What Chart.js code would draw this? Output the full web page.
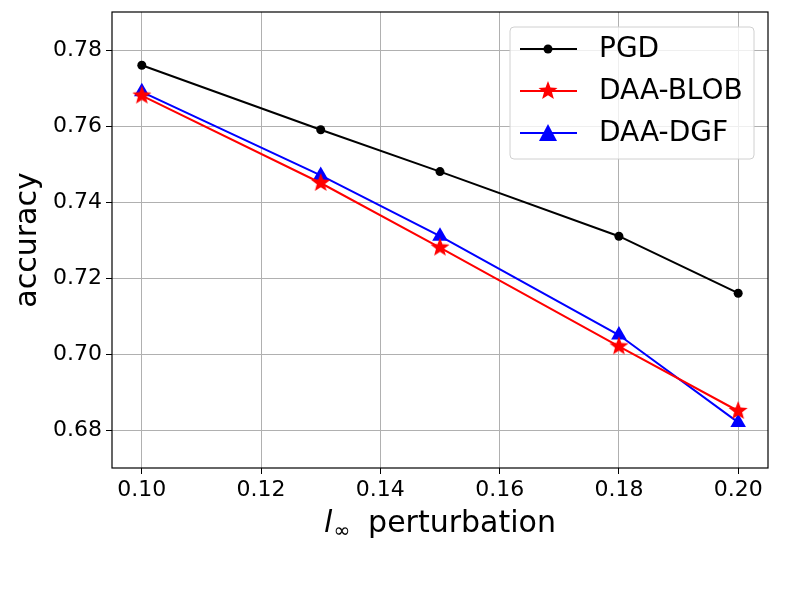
<!DOCTYPE html>
<html>
<head>
<meta charset="utf-8">
<script src="https://cdn.jsdelivr.net/npm/chart.js@4.4.0/dist/chart.umd.min.js"></script>
<style>
  html, body { margin: 0; padding: 0; background: #fff; }
  #wrap { width: 800px; height: 600px; }
</style>
</head>
<body>
<div id="wrap"><canvas id="c" width="800" height="600"></canvas></div>
<script>
'use strict';

var perturbation = [0.10, 0.13, 0.15, 0.18, 0.20];
var pgd = [0.776, 0.759, 0.748, 0.731, 0.716];
var daaBlob = [0.768, 0.745, 0.728, 0.702, 0.685];
var daaDgf = [0.769, 0.747, 0.731, 0.705, 0.682];
var xTicks = [0.10, 0.12, 0.14, 0.16, 0.18, 0.20];
var yTicks = [0.68, 0.70, 0.72, 0.74, 0.76, 0.78];

var FONT = 'DejaVu Sans';

function pts(ys) {
  return perturbation.map((x, i) => ({x: x, y: ys[i]}));
}

// filled five-point star, like matplotlib's '*' marker
function starPath(ctx, cx, cy, r) {
  var inner = r * 0.42;
  ctx.beginPath();
  for (var i = 0; i < 10; i++) {
    var rad = i % 2 === 0 ? r : inner;
    var a = -Math.PI / 2 + i * Math.PI / 5;
    var px = cx + rad * Math.cos(a), py = cy + rad * Math.sin(a);
    if (i === 0) ctx.moveTo(px, py); else ctx.lineTo(px, py);
  }
  ctx.closePath();
}

function makeStar(color, r) {
  var c = document.createElement('canvas');
  c.width = r * 2 + 2; c.height = r * 2 + 2;
  var g = c.getContext('2d');
  starPath(g, r + 1, r + 1, r);
  g.fillStyle = color;
  g.fill();
  return c;
}
var starImg = makeStar('#ff0000', 10);

var series = [
  {label: 'PGD', color: '#000000', marker: 'circle', size: 4.5, data: pgd},
  {label: 'DAA-BLOB', color: '#ff0000', marker: starImg, size: 10, data: daaBlob},
  {label: 'DAA-DGF', color: '#0000ff', marker: 'triangle', size: 9, data: daaDgf}
];

var framePlugin = {
  id: 'frame',
  afterDraw(chart) {
    var ctx = chart.ctx, a = chart.chartArea;
    ctx.save();
    ctx.strokeStyle = '#000';
    ctx.lineWidth = 1.2;
    ctx.strokeRect(a.left, a.top, a.right - a.left, a.bottom - a.top);

    // x axis title: italic l with subscript infinity
    ctx.fillStyle = '#000';
    ctx.textBaseline = 'alphabetic';
    var base = 532;
    ctx.font = 'italic 30px ' + FONT;
    var w1 = ctx.measureText('l').width;
    ctx.font = '20px ' + FONT;
    var w2 = ctx.measureText('\u221e').width;
    ctx.font = '30px ' + FONT;
    var rest = '  perturbation';
    var w3 = ctx.measureText(rest).width;
    var x0 = 440 - (w1 + w2 + w3) / 2;
    ctx.font = 'italic 30px ' + FONT;
    ctx.fillText('l', x0, base);
    ctx.font = '20px ' + FONT;
    ctx.fillText('\u221e', x0 + w1 + 1, base + 5);
    ctx.font = '30px ' + FONT;
    ctx.fillText(rest, x0 + w1 + w2, base);

    // legend box
    var bx = 510, by = 27, bw = 244, bh = 132;
    ctx.beginPath();
    ctx.roundRect(bx, by, bw, bh, 4);
    ctx.fillStyle = 'rgba(255,255,255,0.8)';
    ctx.fill();
    ctx.strokeStyle = '#d0d0d0';
    ctx.lineWidth = 1;
    ctx.stroke();
    series.forEach((s, i) => {
      var yy = 49 + i * 42;
      ctx.strokeStyle = s.color;
      ctx.lineWidth = 2;
      ctx.beginPath();
      ctx.moveTo(520, yy);
      ctx.lineTo(577, yy);
      ctx.stroke();
      ctx.fillStyle = s.color;
      if (s.marker === 'circle') {
        ctx.beginPath();
        ctx.arc(548, yy, 4.5, 0, Math.PI * 2);
        ctx.fill();
      } else if (s.marker === 'triangle') {
        ctx.beginPath();
        ctx.moveTo(548, yy - 9);
        ctx.lineTo(557, yy + 8);
        ctx.lineTo(539, yy + 8);
        ctx.closePath();
        ctx.fill();
      } else {
        starPath(ctx, 548, yy, 10);
        ctx.fill();
      }
      ctx.fillStyle = '#000';
      ctx.font = '28px ' + FONT;
      ctx.textBaseline = 'middle';
      ctx.fillText(s.label, 599, yy + 1);
    });
    ctx.restore();
  }
};

var ctx = document.getElementById('c').getContext('2d');
var chart = new Chart(ctx, {
  'type': 'line',
  'data': {
    'datasets': series.map((s) => ({
      'label': s.label,
      'data': pts(s.data),
      'borderColor': s.color,
      'backgroundColor': s.color,
      'borderWidth': 2,
      'pointStyle': s.marker,
      'pointRadius': s.size,
      'pointHoverRadius': s.size,
      'pointBorderWidth': 0,
      'tension': 0,
      'fill': false
    }))
  },
  'options': {
    'responsive': false,
    'animation': false,
    'devicePixelRatio': 1,
    'layout': {'padding': {'left': 0, 'right': 32, 'top': 12, 'bottom': 0}},
    'plugins': {'legend': {'display': false}, 'tooltip': {'enabled': false}},
    'scales': {
      'x': {
        'type': 'linear',
        'min': 0.095,
        'max': 0.205,
        'afterBuildTicks': (s) => { s.ticks = xTicks.map((v) => ({value: v})); },
        'afterFit': (s) => { s.height = 132; s.paddingLeft = 0; s.paddingRight = 0; },
        'grid': {'color': '#b0b0b0', 'lineWidth': 1, 'tickColor': '#000', 'tickLength': 6},
        'border': {'display': false},
        'ticks': {
          'color': '#000',
          'font': {'family': FONT, 'size': 22},
          'padding': 3,
          'maxRotation': 0,
          'callback': (v) => v.toFixed(2)
        }
      },
      'y': {
        'type': 'linear',
        'min': 0.67,
        'max': 0.79,
        'afterBuildTicks': (s) => { s.ticks = yTicks.map((v) => ({value: v})); },
        'afterFit': (s) => { s.width = 112; s.paddingTop = 0; s.paddingBottom = 0; },
        'grid': {'color': '#b0b0b0', 'lineWidth': 1, 'tickColor': '#000', 'tickLength': 6},
        'border': {'display': false},
        'title': {
          'display': true,
          'text': 'accuracy',
          'color': '#000',
          'font': {'family': FONT, 'size': 30},
          'padding': {'top': 10, 'bottom': 0}
        },
        'ticks': {
          'color': '#000',
          'font': {'family': FONT, 'size': 22},
          'padding': 4,
          'callback': (v) => v.toFixed(2)
        }
      }
    }
  },
  'plugins': [framePlugin]
});
</script>
</body>
</html>
